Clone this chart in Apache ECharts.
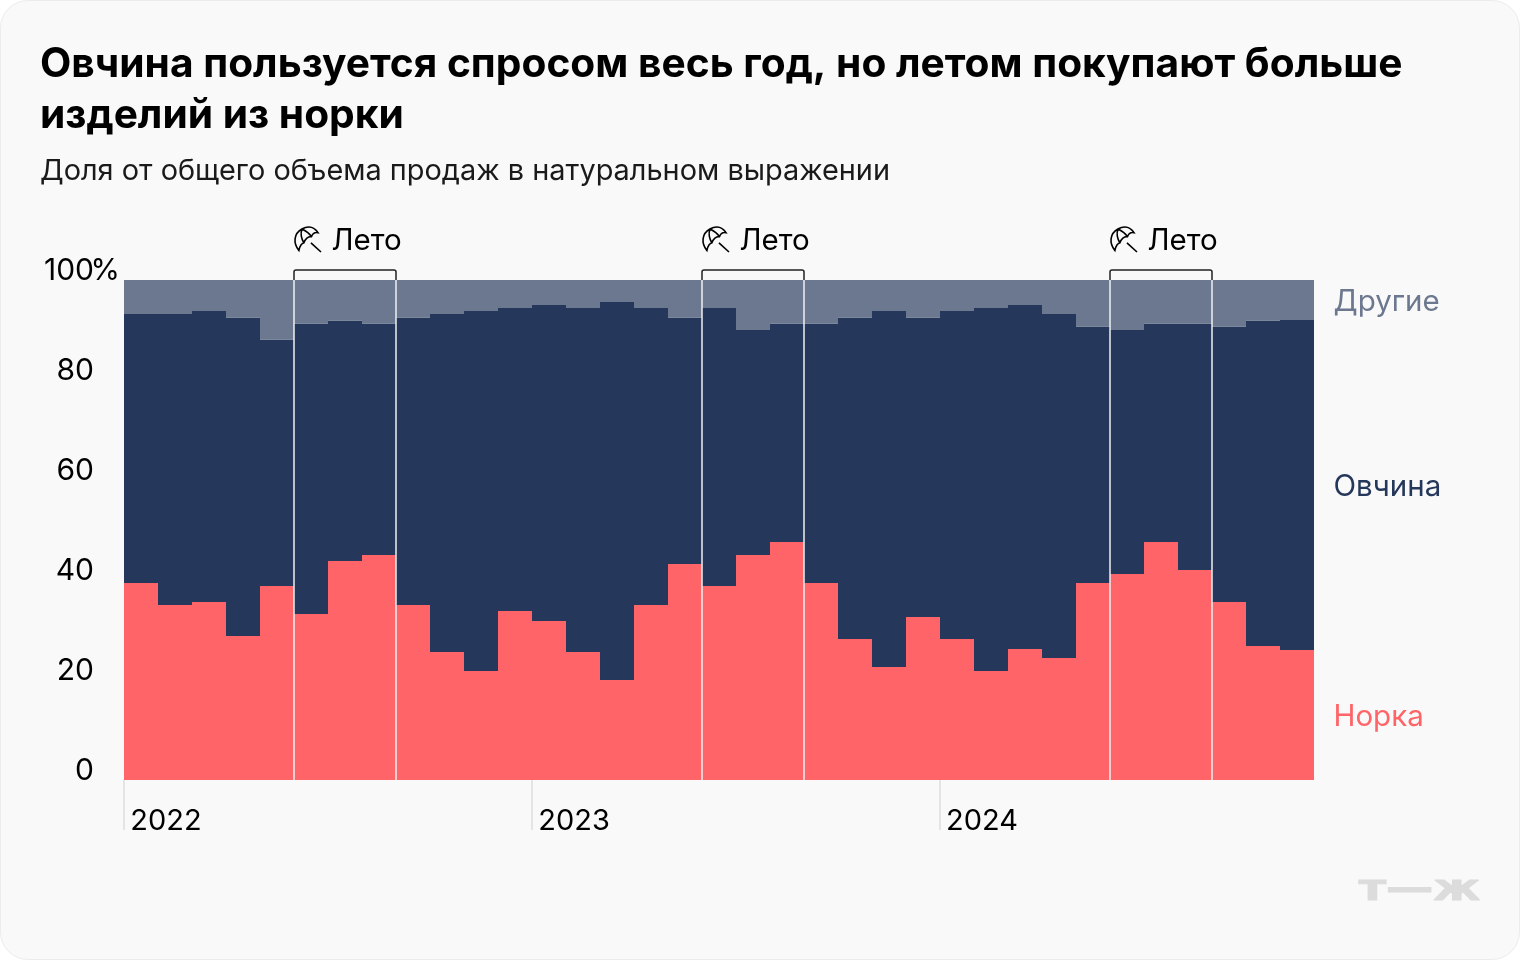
<!DOCTYPE html>
<html><head><meta charset="utf-8">
<style>
html,body{margin:0;padding:0;background:#fff}
#card{position:absolute;left:0;top:0;width:1518px;height:958px;background:#f9f9f9;border:1px solid #ececec;border-radius:28px}
#c{position:absolute;left:0;top:0;width:1520px;height:960px}
</style>
<script src="https://cdn.jsdelivr.net/npm/echarts@6/dist/echarts.min.js"></script>
</head><body><div id="card"></div><div id="c"></div>
<script>
const FONT = 'Inter, "Noto Sans", sans-serif';
const months = ['2022-01','2022-02','2022-03','2022-04','2022-05','2022-06','2022-07','2022-08','2022-09','2022-10','2022-11','2022-12',
 '2023-01','2023-02','2023-03','2023-04','2023-05','2023-06','2023-07','2023-08','2023-09','2023-10','2023-11','2023-12',
 '2024-01','2024-02','2024-03','2024-04','2024-05','2024-06','2024-07','2024-08','2024-09','2024-10','2024-11'];
const mink = [39.4,35,35.6,28.8,38.8,33.2,43.8,45,35,25.6,21.8,33.8,31.8,25.6,20,35,43.2,38.8,45,47.6,39.4,28.2,22.6,32.6,28.2,21.8,26.2,24.4,39.4,41.2,47.6,42,35.6,26.8,26];
const sheep = [53.8,58.2,58.2,63.7,49.3,58.1,48.1,46.3,57.5,67.6,72,60.6,63.2,68.8,75.6,59.4,49.3,55.6,45,43.7,51.9,64.3,71.2,59.9,65.6,72.6,68.8,68.8,51.3,48.8,43.7,49.3,55.1,65.1,66];
const other = [6.8,6.8,6.2,7.5,11.9,8.7,8.1,8.7,7.5,6.8,6.2,5.6,5,5.6,4.4,5.6,7.5,5.6,10,8.7,8.7,7.5,6.2,7.5,6.2,5.6,5,6.8,9.3,10,8.7,8.7,9.3,8.1,8];
const summers = [['2022-06','2022-08'],['2023-06','2023-08'],['2024-06','2024-08']];
const yearStarts = ['2022-01','2023-01','2024-01'];
const titleText = 'Овчина пользуется спросом весь год, но летом покупают больше\nизделий из норки';
const subtitleText = 'Доля от общего объема продаж в натуральном выражении';
const summerLabel = 'Лето';
const names = ['Норка','Овчина','Другие'];
const colors = ['#ff6568','#25375a','#6c788f'];

function barSeries(name, values, color){
  return {type:'bar', name, stack:'s', data: values.map((v,i)=> i===values.length-1 ? {
      value:v, label:{show:true, position:'right', distance:19.5, offset:[0,2], formatter:name, color, fontSize:29.5, fontFamily:FONT}
    } : v),
    itemStyle:{color}, barWidth:'100%', barGap:0, barCategoryGap:0, silent:true, z:2};
}
const umbrella = 'M5,24.5 C-1,17 0,8 8,3.5 C14,0 20,1 24,7 C21,6.5 18.5,8 17.5,11 C14.5,10.5 11,13 10,17 C8,17.5 6,20 5,24.5 Z M8,3.5 C11,5 15,7 17.5,11 M8,3.5 C6.5,8 7.5,13 10,17 M17,17 L27,26';

const chart = echarts.init(document.getElementById('c'), null, {renderer:'canvas'});
chart.setOption({
  animation:false,
  backgroundColor:'transparent',
  title:[
    {text:titleText, left:40, top:40, padding:0, textStyle:{fontFamily:FONT, fontWeight:700, fontSize:40.7, lineHeight:50.5, color:'#000'}},
    {text:subtitleText, left:40, top:154, padding:0, textStyle:{fontFamily:FONT, fontWeight:400, fontSize:28.9, lineHeight:34, color:'#1a1a1a'}}
  ],
  grid:{left:124, top:280, width:1190, height:500, containLabel:false},
  xAxis:{type:'category', data:months, boundaryGap:true,
    axisLine:{show:false},
    axisTick:{show:false},
    axisLabel:{show:true, interval:(i)=>i%12===0, formatter:(v)=>v.slice(0,4), align:'center', padding:[0,0,0,50], margin:27, fontSize:29, fontFamily:FONT, color:'#000'}
  },
  yAxis:{type:'value', min:0, max:100, interval:20, splitLine:{show:false}, axisLine:{show:false}, axisTick:{show:false},
    axisLabel:{margin:4, formatter:(v)=> v===100 ? '100{p|%}' : v+'{h|%}', fontSize:30, fontFamily:FONT, color:'#000', padding:[0,0,18,0],
      rich:{p:{fontSize:30,fontFamily:FONT,color:'#000',width:26},h:{fontSize:30,fontFamily:FONT,color:'rgba(0,0,0,0)',width:26}}}
  },
  series:[
    barSeries(names[0], mink, colors[0]),
    barSeries(names[1], sheep, colors[1]),
    barSeries(names[2], other, colors[2]),
    {type:'custom', silent:true, z:1, clip:false, coordinateSystem:'cartesian2d',
     data: yearStarts.map(m=>[months.indexOf(m)]),
     encode:{x:0},
     renderItem:(p,api)=>{
       const bw = api.size([1,0])[0];
       const x0 = api.coord([api.value(0),0])[0]-bw/2;
       const yB = api.coord([0,0])[1];
       return {type:'line', shape:{x1:x0,y1:yB,x2:x0,y2:yB+50}, style:{stroke:'#dcdcdc',lineWidth:1.5}};
     }},
    {type:'custom', silent:true, z:5, clip:false, coordinateSystem:'cartesian2d',
     data: summers.map(s=>[months.indexOf(s[0]), months.indexOf(s[1])]),
     encode:{x:[0,1]},
     renderItem:(p,api)=>{
       const bw = api.size([1,0])[0];
       const x0 = api.coord([api.value(0),100])[0]-bw/2;
       const x1 = api.coord([api.value(1),100])[0]+bw/2;
       const yT = api.coord([0,100])[1];
       const yB = api.coord([0,0])[1];
       const w = x1-x0;
       return {type:'group', position:[x0,yT], children:[
         {type:'line', shape:{x1:0,y1:0,x2:0,y2:yB-yT}, style:{stroke:'#f1f1f3',lineWidth:1.5}},
         {type:'line', shape:{x1:w,y1:0,x2:w,y2:yB-yT}, style:{stroke:'#f1f1f3',lineWidth:1.5}},
         {type:'path', shape:{pathData:`M0,0 L0,-8 Q0,-10 2,-10 L${w-2},-10 Q${w},-10 ${w},-8 L${w},0`, x:0,y:-10,width:w,height:10, layout:'cover'},
           style:{fill:null,stroke:'#222',lineWidth:1.5}},
         {type:'path', shape:{pathData:umbrella, x:1,y:-53,width:26,height:25, layout:'cover'},
           style:{fill:null,stroke:'#000',lineWidth:1.6}},
         {type:'text', x:37.5, y:-39, style:{text:summerLabel, fontSize:29.5, fontFamily:FONT, fill:'#000', verticalAlign:'middle', align:'left'}}
       ]};
     }}
  ],
  graphic:[
    {type:'text', left:1358, top:873, scaleX:1.35, style:{text:'т—ж', fontFamily:'"DejaVu Sans"', fontWeight:900, fontSize:35, fill:'#dcdcdc', stroke:'#dcdcdc', lineWidth:1}}
  ]
});
</script></body></html>
